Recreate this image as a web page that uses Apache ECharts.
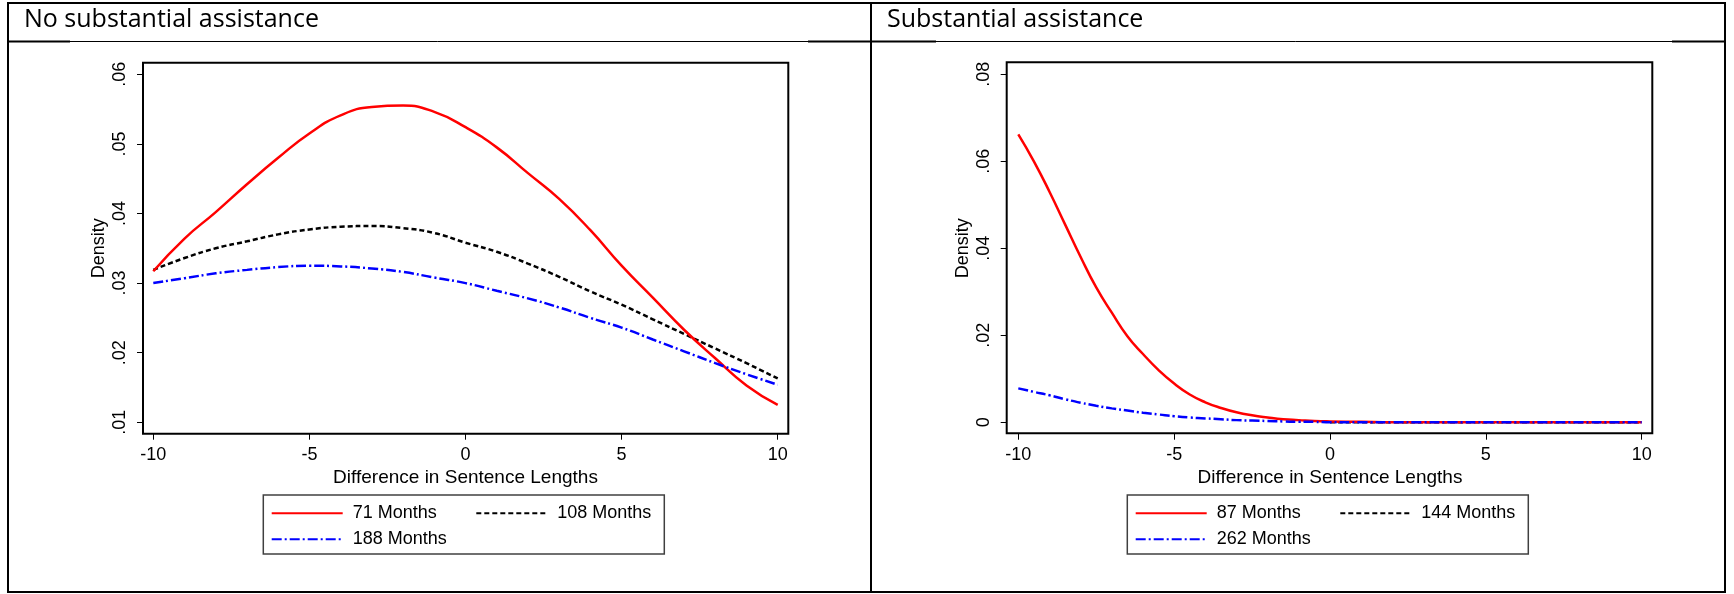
<!DOCTYPE html>
<html>
<head>
<meta charset="utf-8">
<script src="https://cdn.jsdelivr.net/npm/echarts@6/dist/echarts.min.js"></script>
<style>
html,body{margin:0;padding:0;background:#fff;}
#c{width:1734px;height:594px;}
</style>
</head>
<body>
<div id="c"></div>
<script>
// ---------- data ----------
const panelTitles = ['No substantial assistance', 'Substantial assistance'];
const xAxisTitle = 'Difference in Sentence Lengths';
const yAxisTitle = 'Density';

const leftNames = ['71 Months', '108 Months', '188 Months'];
const rightNames = ['87 Months', '144 Months', '262 Months'];

const leftX = [-10,-9,-8,-7,-6,-5,-4,-3,-2,-1,0,1,2,3,4,5,6,7,8,9,10];
const left71  = [.0317,.0364,.0402,.0442,.0480,.0515,.0541,.0553,.0555,.0546,.0524,.0495,.0458,.0421,.0376,.0325,.0279,.0233,.0192,.0153,.0125];
const left108 = [.0319,.0336,.0350,.0360,.0370,.0377,.0381,.0382,.0379,.0372,.0358,.0345,.0328,.0309,.0288,.0269,.0248,.0227,.0206,.0185,.0163];
const left188 = [.0300,.0307,.0314,.0319,.0323,.0325,.0324,.0321,.0316,.0308,.0300,.0289,.0278,.0265,.0250,.0236,.0219,.0202,.0185,.0169,.0154];

const rightX = [-10,-9.5,-9,-8.5,-8,-7.5,-7,-6.5,-6,-5.5,-5,-4.5,-4,-3.5,-3,-2.5,-2,-1.5,-1,-0.5,0,1,2,3,4,5,6,7,8,9,10];
const right87  = [.0662,.0600,.0530,.0455,.0380,.0310,.0252,.0198,.0157,.0120,.0089,.0064,.0046,.0033,.0023,.0016,.0011,.0007,.0005,.0003,.0002,.0001,0,0,0,0,0,0,0,0,0];
// 144 Months is not visible in the reference: only where it lies hidden under the other curves
const right144 = [null,null,null,null,null,null,null,null,null,null,null,null,null,null,null,null,null,null,null,null,0,0,0,0,0,0,0,0,0,0,0];
const right262 = [.0078,.0070,.0062,.0053,.0045,.0038,.0032,.0027,.0022,.0018,.0014,.0011,.0009,.0007,.0005,.0004,.0003,.0002,.0001,.0001,0,0,0,0,0,0,0,0,0,0,0];

// ---------- styles ----------
const FONT = '"Liberation Sans", Arial, sans-serif';
const lineStyles = [
  {color:'#ff0000', width:2.5, type:'solid'},
  {color:'#000000', width:2.5, type:[5,3]},
  {color:'#0000ff', width:2.5, type:[10,3,2,3]}
];

function fmtY(v){
  const r = Math.round(v*1000)/1000;
  if (r === 0) return '0';
  return String(r).replace(/^0\./, '.');
}

function mkSeries(names, xs, ys, gi){
  return names.map((n,i)=>({
    type:'line', name:n, xAxisIndex:gi, yAxisIndex:gi,
    data: xs.map((x,k)=>[x, ys[i][k]]),
    showSymbol:false, symbol:'none', smooth:0.5,
    lineStyle: lineStyles[i], itemStyle:{color: lineStyles[i].color},
    z: i===1 ? 1 : 2, silent:true, animation:false, clip:false
  }));
}

function mkXAxis(gi){
  return {
    type:'value', gridIndex:gi, min:-10, max:10, interval:5, offset:11.4,
    axisLine:{show:false, onZero:false}, splitLine:{show:false},
    axisTick:{show:true, length:6, lineStyle:{color:'#000', width:1}},
    axisLabel:{color:'#000', fontSize:18, fontFamily:FONT, margin:12},
    name:xAxisTitle, nameLocation:'middle', nameGap:26,
    nameTextStyle:{color:'#000', fontSize:19, fontFamily:FONT}
  };
}
function mkYAxis(gi, min, max, interval, offset){
  return {
    type:'value', gridIndex:gi, min:min, max:max, interval:interval, offset:offset,
    axisLine:{show:false, onZero:false}, splitLine:{show:false},
    axisTick:{show:true, length:6, lineStyle:{color:'#000', width:1}},
    axisLabel:{color:'#000', fontSize:18, fontFamily:FONT, rotate:90, margin:14, formatter:fmtY},
    name:yAxisTitle, nameLocation:'middle', nameGap:35,
    nameTextStyle:{color:'#000', fontSize:18, fontFamily:FONT}
  };
}
function mkLegend(names, left){
  return {
    data: names, left:left, top:495, orient:'horizontal', width:385,
    itemWidth:71, itemHeight:18, itemGap:8,
    padding:[9.3, 10, 5.7, 7.4],
    borderColor:'#404040', borderWidth:1.5, backgroundColor:'#fff',
    selectedMode:false,
    itemStyle:{color:'rgba(0,0,0,0)', borderWidth:0, opacity:0},
    lineStyle:{width:2},
    formatter: function(name){ return names.indexOf(name)===1 ? '{b|'+name+'}' : '{a|'+name+'}'; },
    textStyle:{color:'#000', fontSize:18, fontFamily:FONT,
      rich:{
        a:{width:114.6, padding:[0,0,0,5], fontSize:18, fontFamily:FONT, lineHeight:18, color:'#000'},
        b:{width:97, padding:[0,0,0,5], fontSize:18, fontFamily:FONT, lineHeight:18, color:'#000'}
      }}
  };
}

const chart = echarts.init(document.getElementById('c'), null, {renderer:'canvas'});
const frame = {stroke:'#000', lineWidth:2, fill:null};
chart.setOption({
  animation:false,
  backgroundColor:'#fff',
  grid:[
    {left:153.3, right:956.3, top:74.3, bottom:171.7, containLabel:false},
    {left:1018.3, right:92.3, top:74.3, bottom:171.7, containLabel:false}
  ],
  xAxis:[mkXAxis(0), mkXAxis(1)],
  yAxis:[mkYAxis(0, 0.01, 0.06, 0.01, 10.3), mkYAxis(1, 0, 0.08, 0.02, 11.6)],
  legend:[mkLegend(leftNames, 263.3), mkLegend(rightNames, 1127.3)],
  series:[].concat(
    mkSeries(leftNames, leftX, [left71, left108, left188], 0),
    mkSeries(rightNames, rightX, [right87, right144, right262], 1)
  ),
  graphic:[
    {type:'rect', shape:{x:8, y:3, width:1717, height:589}, style:{stroke:'#000', lineWidth:2, fill:null}, silent:true, z:0},
    {type:'line', shape:{x1:871, y1:3, x2:871, y2:592}, style:{stroke:'#000', lineWidth:2}, silent:true},
    {type:'line', shape:{x1:8, y1:41.5, x2:1725, y2:41.5}, style:{stroke:'#000', lineWidth:1}, silent:true},
    {type:'line', shape:{x1:8, y1:41.5, x2:70, y2:41.5}, style:{stroke:'#000', lineWidth:2}, silent:true},
    {type:'line', shape:{x1:808, y1:41.5, x2:871, y2:41.5}, style:{stroke:'#000', lineWidth:2}, silent:true},
    {type:'line', shape:{x1:871, y1:41.5, x2:936, y2:41.5}, style:{stroke:'#000', lineWidth:2}, silent:true},
    {type:'line', shape:{x1:1672, y1:41.5, x2:1725, y2:41.5}, style:{stroke:'#000', lineWidth:2}, silent:true},
    {type:'text', left:24, top:7, style:{text:panelTitles[0], fill:'#000', font:'25px "Open Sans", sans-serif'}, silent:true},
    {type:'text', left:887, top:7, style:{text:panelTitles[1], fill:'#000', font:'25px "Open Sans", sans-serif'}, silent:true},
    {type:'rect', shape:{x:143, y:62.7, width:645.3, height:371}, style:frame, silent:true},
    {type:'rect', shape:{x:1006.7, y:62.3, width:645.6, height:371}, style:frame, silent:true}
  ]
});
</script>
</body>
</html>
